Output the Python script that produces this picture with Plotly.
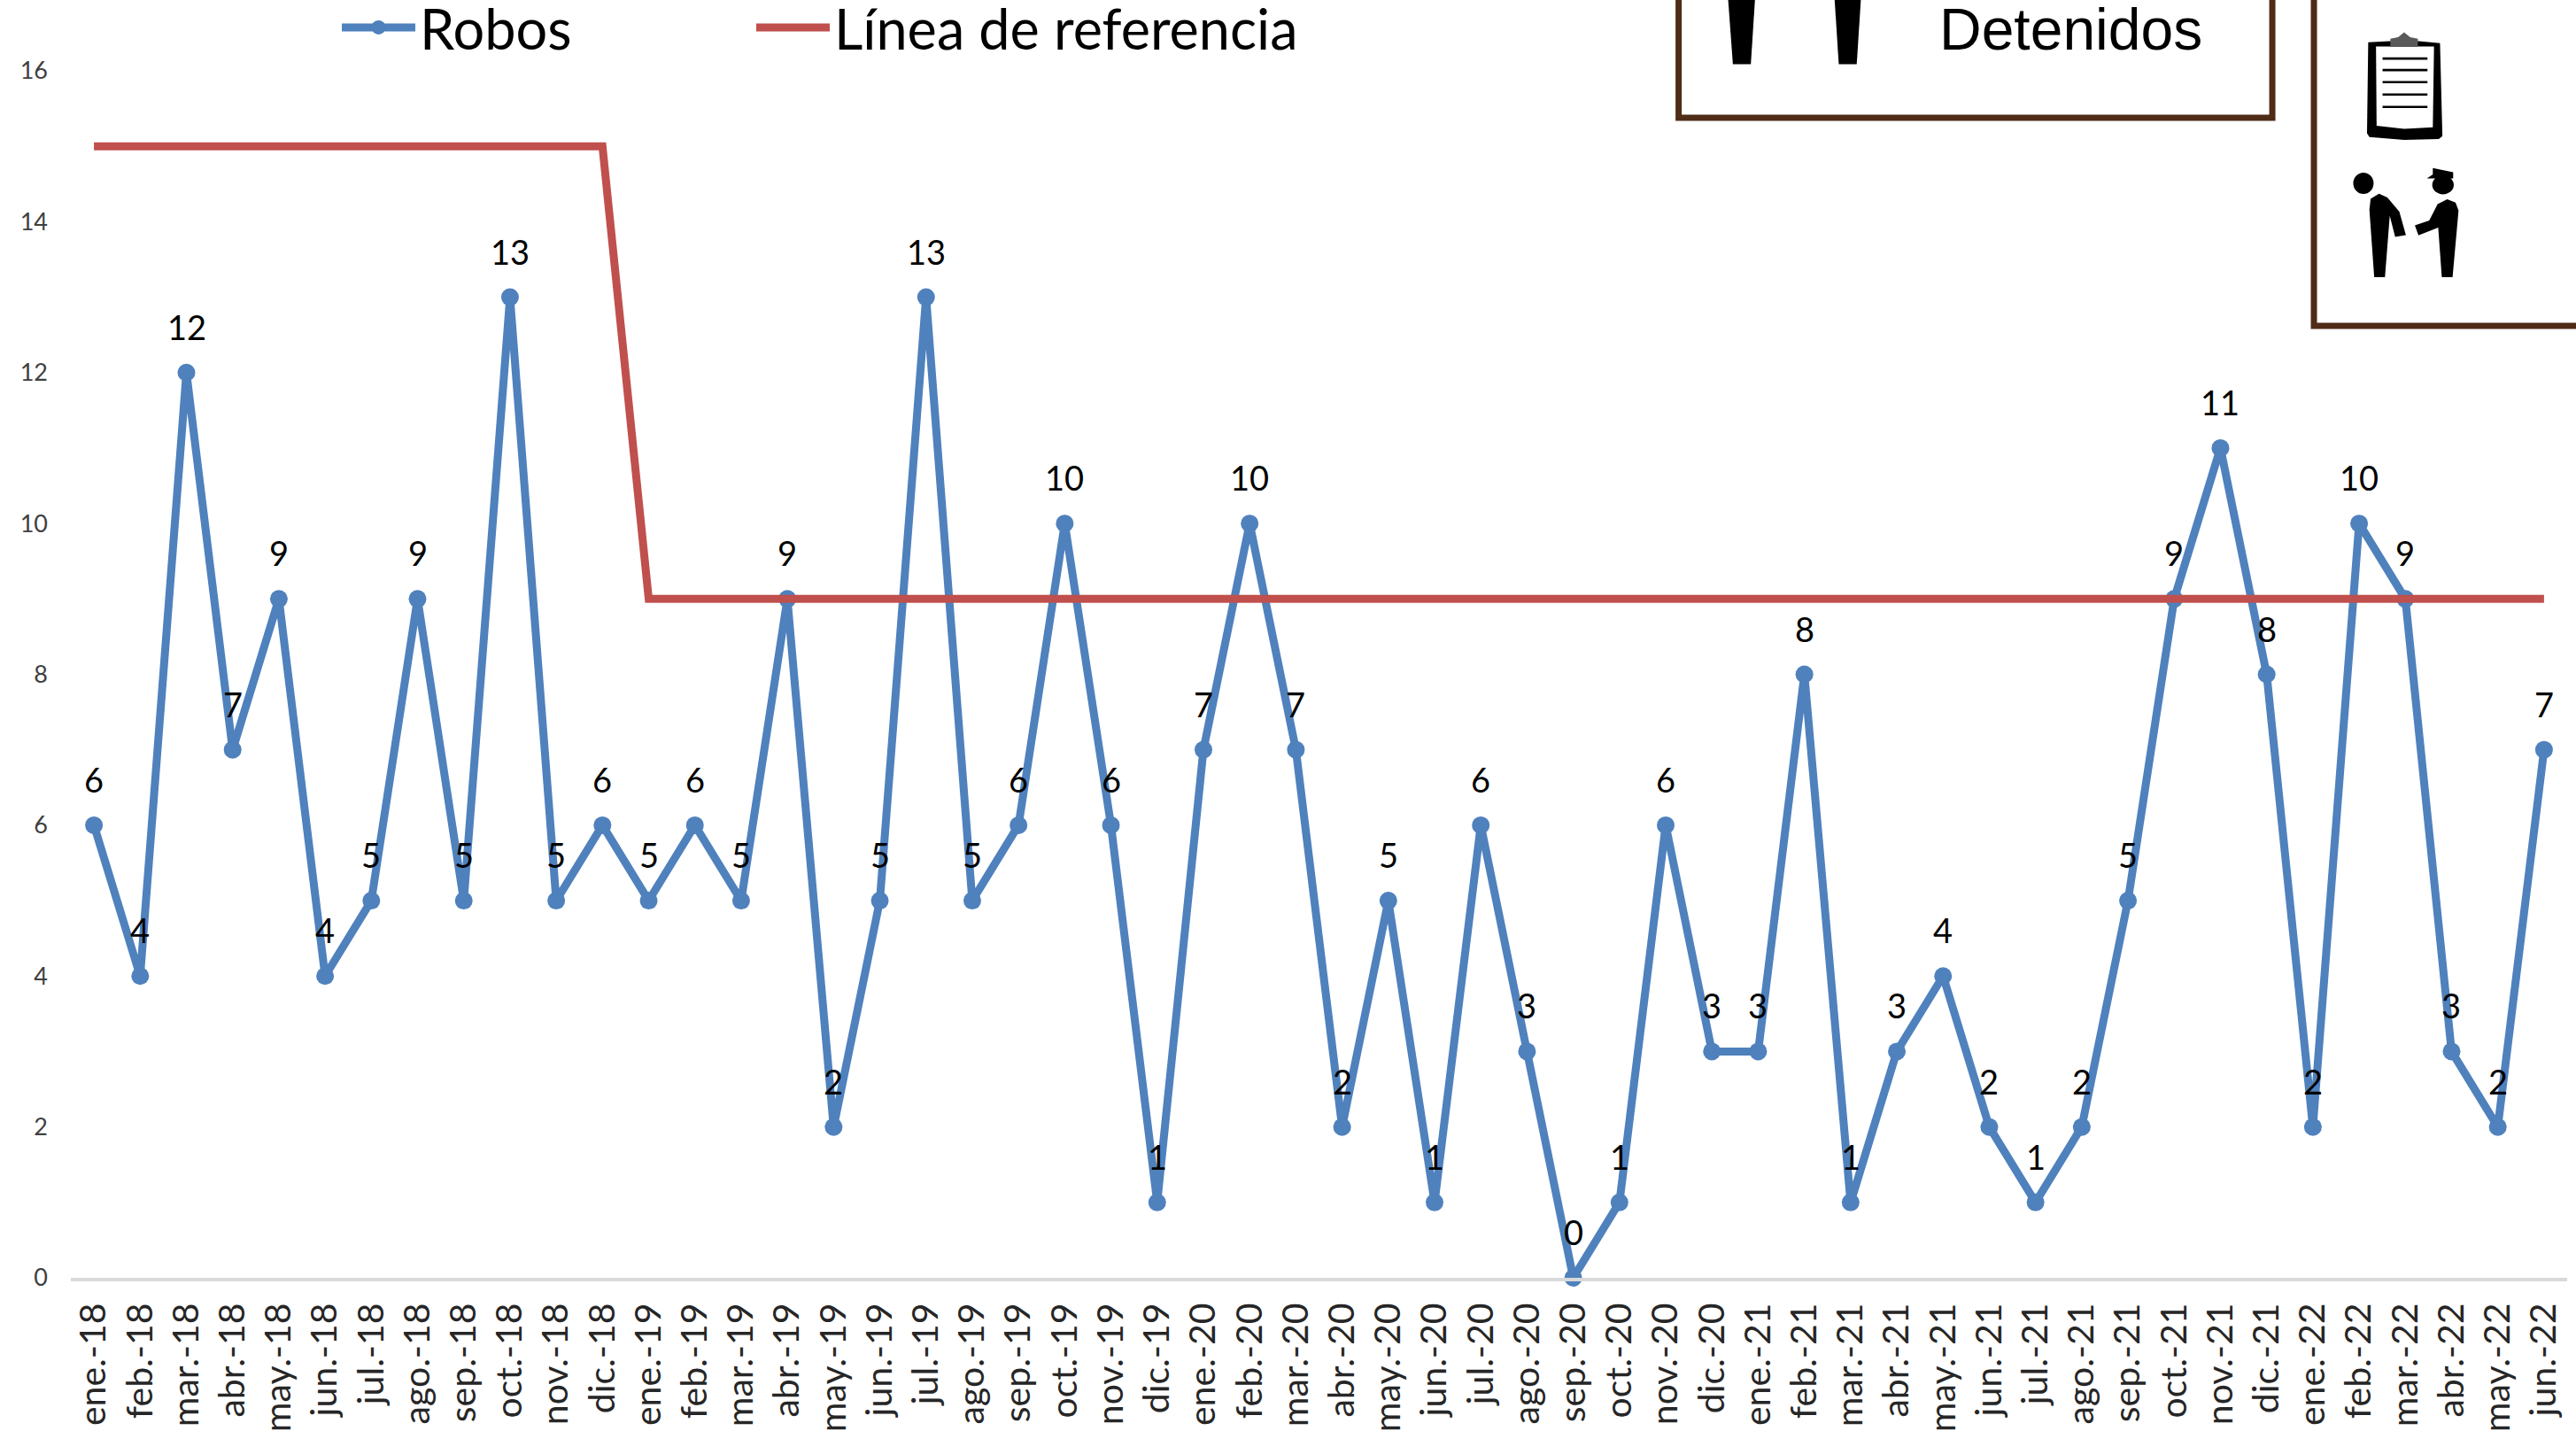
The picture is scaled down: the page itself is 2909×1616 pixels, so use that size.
import plotly.graph_objects as go

months = ["ene.", "feb.", "mar.", "abr.", "may.", "jun.", "jul.", "ago.", "sep.", "oct.", "nov.", "dic."]
categories = [f"{m}-{y}" for y in (18, 19, 20, 21) for m in months] + [f"{m}-22" for m in months[:6]]
robos = [6, 4, 12, 7, 9, 4, 5, 9, 5, 13, 5, 6,
         5, 6, 5, 9, 2, 5, 13, 5, 6, 10, 6, 1,
         7, 10, 7, 2, 5, 1, 6, 3, 0, 1, 6, 3,
         3, 8, 1, 3, 4, 2, 1, 2, 5, 9, 11, 8,
         2, 10, 9, 3, 2, 7]
referencia = [15] * 12 + [9] * 42

W, H = 2909, 1616
L, R, T, B = 79.6, 2899, 79.6, 1442.7
BLUE, RED, BROWN = "#4F81BD", "#C0504D", "#4F2C17"
FONT = "Lato"

def px(x, y):
    return (x - L) / (R - L), (B - y) / (B - T)

def z(x, y):
    return px(1850 + x / 1.48, y / 3)

def path(points):
    return "M " + " L ".join(f"{a:.5f},{b:.5f}" for a, b in (z(*p) for p in points)) + " Z"

def shape_path(points, fill="black"):
    return dict(type="path", xref="paper", yref="paper", path=path(points),
                fillcolor=fill, line=dict(width=0), layer="above")

def ell(cx, cy, rx, ry, fill="black"):
    x0, y0 = z(cx - rx, cy - ry)
    x1, y1 = z(cx + rx, cy + ry)
    return dict(type="circle", xref="paper", yref="paper", x0=x0, x1=x1, y0=y0, y1=y1,
                fillcolor=fill, line=dict(width=0), layer="above")

def rect(x0, y0, x1, y1, fill="white", line=None, lw=0):
    a, b = px(x0, y0)
    c, d = px(x1, y1)
    return dict(type="rect", xref="paper", yref="paper", x0=a, y0=b, x1=c, y1=d,
                fillcolor=fill, line=dict(color=line or fill, width=lw), layer="above")

shapes = [
    rect(1895.5, -20, 2566, 132.5, line=BROWN, lw=7),
    rect(2613, -20, 2960, 367.5, line=BROWN, lw=7),
    # legs of the two figures in the first box
    shape_path([(150, -5), (195, -5), (188, 216), (158, 216)]),
    shape_path([(328, -5), (372, -5), (365, 216), (335, 216)]),
    # clipboard
    shape_path([(1220, 142), (1255, 138), (1305, 138), (1340, 145), (1344, 460), (1338, 470),
                (1280, 473), (1222, 463), (1218, 450)]),
    shape_path([(1233, 156), (1330, 156), (1328, 430), (1280, 435), (1234, 425)], fill="white"),
    shape_path([(1257, 130), (1270, 125), (1280, 108), (1290, 125), (1303, 130), (1303, 158), (1257, 158)], fill="#595959"),
    # the two people
    ell(1212, 620, 17, 36),
    ell(1345, 625, 18, 32),
    shape_path([(1328, 568), (1362, 582), (1362, 603), (1318, 603), (1328, 590)]),
    shape_path([(1238, 655), (1252, 668), (1272, 716), (1283, 795), (1265, 801), (1256, 730),
                (1248, 938), (1230, 938), (1222, 710), (1224, 672)]),
    shape_path([(1352, 674), (1366, 685), (1371, 712), (1361, 938), (1343, 938), (1337, 770),
                (1304, 796), (1298, 762), (1322, 746), (1336, 690)]),
]
for yy in (197, 236, 277, 319, 361):
    shapes.append(shape_path([(1244, yy - 4), (1319, yy - 4), (1319, yy + 4), (1244, yy + 4)]))

value_labels = [dict(
    x=c, y=v, text=str(v), xref="x", yref="y", showarrow=False,
    xanchor="center", yanchor="middle", yshift=52,
    font=dict(family=FONT, size=38, color="black"),
) for c, v in zip(categories, robos)]

fig = go.Figure()
fig.add_trace(go.Scatter(
    x=categories, y=robos, name="Robos", mode="lines+markers",
    line=dict(color=BLUE, width=9),
    marker=dict(color=BLUE, size=20),
    cliponaxis=False, legend="legend",
))
fig.add_trace(go.Scatter(
    x=categories, y=referencia, name="Línea de referencia", mode="lines",
    line=dict(color=RED, width=9),
    cliponaxis=False, legend="legend2",
))

legend_common = dict(
    orientation="h", xref="container", yref="container", yanchor="middle", xanchor="left",
    y=1 - 31 / H, font=dict(family=FONT, size=63, color="black"),
    itemwidth=83, bgcolor="rgba(0,0,0,0)",
)

fig.update_layout(
    width=W, height=H, autosize=False,
    margin=dict(l=L, r=W - R, t=T, b=H - B, pad=0),
    paper_bgcolor="white", plot_bgcolor="white",
    showlegend=True,
    legend=dict(x=381 / W, **legend_common),
    legend2=dict(x=849 / W, **legend_common),
    shapes=shapes,
    annotations=value_labels + [dict(
        text="Detenidos", xref="paper", yref="paper",
        x=px(2338, 0)[0], y=px(0, 33)[1], xanchor="center", yanchor="middle",
        showarrow=False, font=dict(family="Liberation Sans", size=66, color="black"),
    )],
    xaxis=dict(
        type="category", categoryorder="array", categoryarray=categories,
        range=[-0.5, 53.5], tickmode="array", tickvals=categories, ticktext=categories,
        tickangle=-90, tickfont=dict(family=FONT, size=41, color="#262626"),
        showgrid=False, zeroline=False, showline=True, linecolor="#D9D9D9", linewidth=4,
        ticks="", ticklabelstandoff=8, automargin=False,
    ),
    yaxis=dict(
        range=[0, 16], tickmode="array", tickvals=list(range(0, 17, 2)),
        tickfont=dict(family=FONT, size=27, color="#404040"),
        showgrid=False, zeroline=False, showline=False,
        ticks="", ticklabelstandoff=25, automargin=False,
    ),
)

fig.write_html("out.html", config=dict(displayModeBar=False),
               post_script="document.body.style.margin='0';document.body.style.overflow='hidden';")
